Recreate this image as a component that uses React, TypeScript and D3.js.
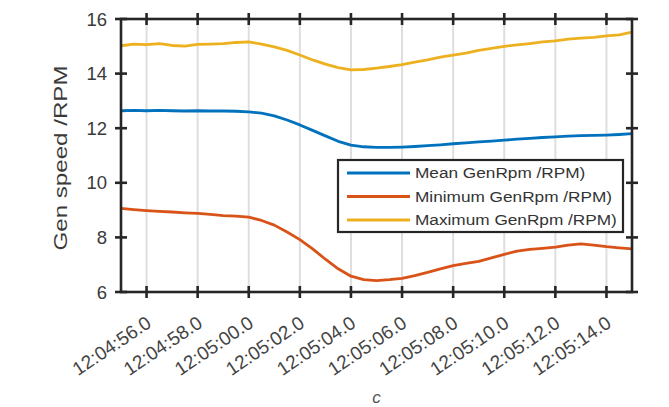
import React from "react";
import * as d3 from "d3";

// seconds after 12:04:00
const seconds = [
  55, 55.5, 56, 56.5, 57, 57.5, 58, 58.5, 59, 59.5, 60, 60.5, 61, 61.5, 62, 62.5, 63, 63.5, 64, 64.5,
  65, 65.5, 66, 66.5, 67, 67.5, 68, 68.5, 69, 69.5, 70, 70.5, 71, 71.5, 72, 72.5, 73, 73.5, 74, 74.5, 75,
];

const meanRpm = [
  12.64, 12.65, 12.64, 12.65, 12.64, 12.63, 12.64, 12.63, 12.63, 12.62, 12.6, 12.55, 12.45, 12.3, 12.12,
  11.92, 11.72, 11.52, 11.38, 11.32, 11.3, 11.3, 11.31, 11.33, 11.36, 11.39, 11.43, 11.46, 11.5, 11.53,
  11.56, 11.6, 11.63, 11.66, 11.68, 11.71, 11.73, 11.74, 11.75, 11.77, 11.8,
];

const minRpm = [
  9.06, 9.02, 8.98, 8.95, 8.93, 8.9, 8.88, 8.84, 8.8, 8.78, 8.74, 8.62, 8.45, 8.2, 7.92, 7.58, 7.2, 6.85,
  6.58, 6.45, 6.42, 6.45, 6.5, 6.6, 6.72, 6.85, 6.97, 7.05, 7.12, 7.25, 7.38, 7.5, 7.56, 7.6, 7.64, 7.72,
  7.76, 7.72, 7.66, 7.62, 7.58,
];

const maxRpm = [
  15.02, 15.08, 15.06, 15.1, 15.03, 15.01, 15.07, 15.08, 15.1, 15.14, 15.16, 15.08, 14.98, 14.85, 14.68,
  14.5, 14.35, 14.22, 14.14, 14.15, 14.2, 14.26, 14.33, 14.42, 14.5, 14.6, 14.68, 14.75, 14.85, 14.92,
  15.0, 15.05, 15.1, 15.16, 15.2, 15.26, 15.3, 15.33, 15.38, 15.42, 15.52,
];

const seriesNames = ["Mean GenRpm /RPM)", "Minimum GenRpm /RPM)", "Maximum GenRpm /RPM)"];
const seriesColors = ["#0072BD", "#D95319", "#EDB120"];
const yTicks = [6, 8, 10, 12, 14, 16];

const W = 669;
const H = 407;
const margin = { left: 121, right: 37, top: 19, bottom: 115 };
const FONT = "'Liberation Sans', Arial, sans-serif";

const toDate = (s: number) => new Date(2000, 0, 1, 12, 4, 0, s * 1000);

export default function App() {
  const x = d3
    .scaleTime()
    .domain([toDate(55), toDate(75)])
    .range([margin.left, W - margin.right]);
  const y = d3.scaleLinear().domain([6, 16]).range([H - margin.bottom, margin.top]);

  const xTicks = x.ticks(d3.timeSecond.every(2) as any);
  const fmt = d3.timeFormat("%H:%M:%S");

  const x0 = margin.left;
  const x1 = W - margin.right;
  const y0 = H - margin.bottom;
  const y1 = margin.top;

  const series = [meanRpm, minRpm, maxRpm];
  const line = d3
    .line<number>()
    .x((_, i) => x(toDate(seconds[i])))
    .y((d) => y(d))
    .curve(d3.curveLinear);

  const axisColor = "#262626";
  const tk = 6;

  return (
    <svg width={W} height={H} style={{ position: "absolute", left: 0, top: 0, background: "#fff" }}>
      {/* vertical grid */}
      {xTicks.map((t, i) => (
        <line key={"g" + i} x1={x(t)} x2={x(t)} y1={y1} y2={y0} stroke="#dedede" strokeWidth={2} />
      ))}

      {series.map((s, i) => (
        <path key={"s" + i} d={line(s) || ""} fill="none" stroke={seriesColors[i]} strokeWidth={2.8} strokeLinejoin="round" />
      ))}

      {/* box */}
      <rect x={x0} y={y1} width={x1 - x0} height={y0 - y1} fill="none" stroke={axisColor} strokeWidth={2.6} />

      {/* x ticks top & bottom */}
      {xTicks.map((t, i) => (
        <g key={"xt" + i} stroke={axisColor} strokeWidth={2.6}>
          <line x1={x(t)} x2={x(t)} y1={y0 - tk} y2={y0 + tk} />
          <line x1={x(t)} x2={x(t)} y1={y1 - tk} y2={y1 + tk} />
        </g>
      ))}
      {/* y ticks left & right */}
      {yTicks.map((v, i) => (
        <g key={"yt" + i} stroke={axisColor} strokeWidth={2.6}>
          <line x1={x0 - tk} x2={x0 + tk} y1={y(v)} y2={y(v)} />
          <line x1={x1 - tk} x2={x1 + tk} y1={y(v)} y2={y(v)} />
        </g>
      ))}

      {/* y tick labels */}
      {yTicks.map((v, i) => (
        <text key={"yl" + i} x={x0 - 14} y={y(v) + 6.5} textAnchor="end" fontFamily={FONT} fontSize={18.5} fill="#3a3a3a">
          {v}
        </text>
      ))}

      {/* x tick labels */}
      {xTicks.map((t, i) => (
        <text
          key={"xl" + i}
          transform={`translate(${x(t) + 6},${y0 + 34}) rotate(-34)`}
          textAnchor="end"
          fontFamily={FONT}
          fontSize={19}
          fill="#444"
        >
          {fmt(t) + ".0"}
        </text>
      ))}

      {/* y label */}
      <text
        transform={`translate(67,158) rotate(-90)`}
        textAnchor="middle"
        fontFamily={FONT}
        fontSize={18.5}
        fill="#3a3a3a"
        textLength={185}
        lengthAdjust="spacingAndGlyphs"
      >
        Gen speed /RPM
      </text>

      {/* caption */}
      <text x={(x0 + x1) / 2} y={403} textAnchor="middle" fontFamily={FONT} fontStyle="italic" fontSize={17} fill="#555">
        c
      </text>

      {/* legend */}
      <g>
        <rect x={338} y={160} width={285} height={72} fill="#fff" stroke={axisColor} strokeWidth={2.2} />
        {seriesNames.map((n, i) => (
          <g key={"lg" + i} transform={`translate(0,${173 + i * 23.5})`}>
            <line x1={347} x2={410} y1={0} y2={0} stroke={seriesColors[i]} strokeWidth={2.8} />
            <g transform="translate(415,5) scale(1.23,1)">
              <text x={0} y={0} fontFamily={FONT} fontSize={14} fill="#333">
                {n}
              </text>
            </g>
          </g>
        ))}
      </g>
    </svg>
  );
}
